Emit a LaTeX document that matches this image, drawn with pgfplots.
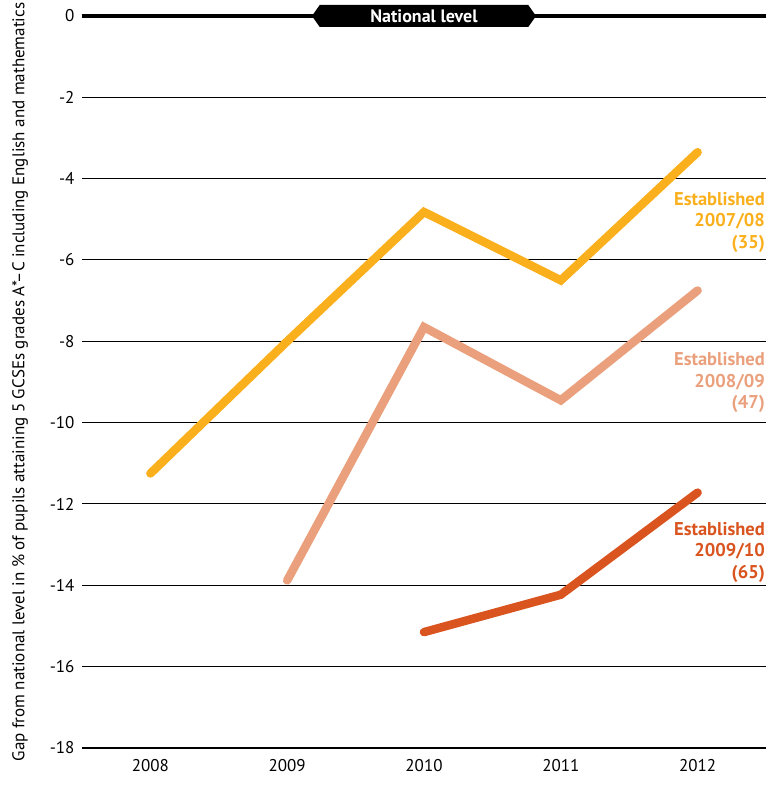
\documentclass[border=0pt]{standalone}
\usepackage{pgfplots}
\pgfplotsset{compat=1.18}
\usepackage{fontspec}
\setmainfont{PT Sans}
\usetikzlibrary{shapes.symbols}
\definecolor{est0708}{HTML}{FAAF1C}
\definecolor{est0809}{HTML}{EAA07C}
\definecolor{est0910}{HTML}{D9541F}
\begin{document}
\begin{tikzpicture}
\begin{axis}[
  width=684pt, height=732pt, scale only axis,
  xmin=-0.5, xmax=4.5,
  ymin=-18, ymax=0,
  axis lines*=left,
  y axis line style={draw=none},
  x axis line style={line width=1.2pt},
  xtick={0,1,2,3,4},
  xticklabels={2008,2009,2010,2011,2012},
  extra x ticks={-0.5,0.5,1.5,2.5,3.5,4.5},
  extra x tick labels={},
  extra x tick style={major tick length=10pt, tick align=outside,
    tick style={black, line width=1pt}, grid=none},
  xtick style={draw=none},
  ytick={-18,-16,-14,-12,-10,-8,-6,-4,-2},
  extra y ticks={0},
  extra y tick style={grid style={black, line width=3.2pt}},
  ytick style={draw=none},
  ymajorgrids=true,
  grid style={black, line width=1pt},
  /pgf/number format/assume math mode=true,
  tick label style={font=\fontsize{17}{19}\selectfont},
  xticklabel style={yshift=-8pt},
  yticklabel style={xshift=-4pt},
  ylabel={Gap from national level in \% of pupils attaining 5 GCSEs grades A*–C including English and mathematics},
  ylabel style={at={(axis description cs:-0.0906,0.5)}, anchor=center, rotate=0,
    font=\fontsize{17}{19}\selectfont},
  clip=false,
  every axis plot/.append style={line width=8.5pt, line cap=round, line join=miter},
]
\addplot[est0708] coordinates {(0,-11.25) (1,-8.0) (2,-4.82) (3,-6.5) (4,-3.35)};
\addplot[est0809] coordinates {(1,-13.88) (2,-7.65) (3,-9.45) (4,-6.75)};
\addplot[est0910] coordinates {(2,-15.15) (3,-14.23) (4,-11.72)};

\node[anchor=east, align=right, text=est0708, font=\bfseries\fontsize{18.5}{21.5}\selectfont, inner sep=1pt]
  at (rel axis cs:1,0.7183) {Established\\2007/08\\(35)};
\node[anchor=east, align=right, text=est0809, font=\bfseries\fontsize{18.5}{21.5}\selectfont, inner sep=1pt]
  at (rel axis cs:1,0.4989) {Established\\2008/09\\(47)};
\node[anchor=east, align=right, text=est0910, font=\bfseries\fontsize{18.5}{21.5}\selectfont, inner sep=1pt]
  at (rel axis cs:1,0.2678) {Established\\2009/10\\(65)};

\node[signal, signal to=west and east, signal pointer angle=110,
  fill=black, text=white, font=\bfseries\fontsize{18}{20}\selectfont,
  minimum width=224pt, minimum height=22pt, inner sep=0pt]
  at (axis cs:2,0) {National level};
\end{axis}
\pgfresetboundingbox
\path ([xshift=-82pt,yshift=-38pt]current axis.south west)
  rectangle ([xshift=15pt,yshift=16pt]current axis.north east);
\end{tikzpicture}
\end{document}
